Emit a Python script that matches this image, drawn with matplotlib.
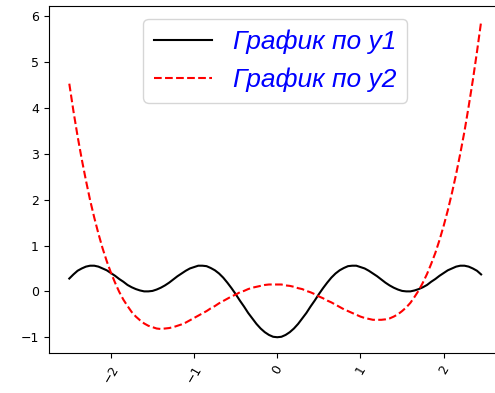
import matplotlib
matplotlib.use("Agg")
import matplotlib.pyplot as plt

# x positions (every 0.05)
x = [-2.5, -2.45, -2.4, -2.35, -2.3, -2.25, -2.2, -2.15, -2.1, -2.05,
     -2.0, -1.95, -1.9, -1.85, -1.8, -1.75, -1.7, -1.65, -1.6, -1.55,
     -1.5, -1.45, -1.4, -1.35, -1.3, -1.25, -1.2, -1.15, -1.1, -1.05,
     -1.0, -0.95, -0.9, -0.85, -0.8, -0.75, -0.7, -0.65, -0.6, -0.55,
     -0.5, -0.45, -0.4, -0.35, -0.3, -0.25, -0.2, -0.15, -0.1, -0.05,
     0.0, 0.05, 0.1, 0.15, 0.2, 0.25, 0.3, 0.35, 0.4, 0.45,
     0.5, 0.55, 0.6, 0.65, 0.7, 0.75, 0.8, 0.85, 0.9, 0.95,
     1.0, 1.05, 1.1, 1.15, 1.2, 1.25, 1.3, 1.35, 1.4, 1.45,
     1.5, 1.55, 1.6, 1.65, 1.7, 1.75, 1.8, 1.85, 1.9, 1.95,
     2.0, 2.05, 2.1, 2.15, 2.2, 2.25, 2.3, 2.35, 2.4, 2.45]

# solid black curve
y1 = [0.28, 0.37, 0.45, 0.50, 0.54, 0.56, 0.56, 0.54, 0.50, 0.46,
      0.40, 0.34, 0.27, 0.21, 0.14, 0.09, 0.05, 0.02, 0.00, 0.00,
      0.01, 0.04, 0.08, 0.13, 0.19, 0.26, 0.33, 0.39, 0.45, 0.50,
      0.53, 0.56, 0.56, 0.55, 0.51, 0.46, 0.39, 0.30, 0.19, 0.07,
      -0.06, -0.20, -0.33, -0.47, -0.59, -0.71, -0.81, -0.89, -0.95, -0.99,
      -1.00, -0.99, -0.95, -0.89, -0.81, -0.71, -0.59, -0.47, -0.33, -0.20,
      -0.06, 0.07, 0.19, 0.30, 0.39, 0.46, 0.51, 0.55, 0.56, 0.56,
      0.53, 0.50, 0.45, 0.39, 0.33, 0.26, 0.19, 0.13, 0.08, 0.04,
      0.01, 0.00, 0.00, 0.02, 0.05, 0.09, 0.14, 0.21, 0.27, 0.34,
      0.40, 0.46, 0.50, 0.54, 0.56, 0.56, 0.54, 0.50, 0.45, 0.37]

# dashed red curve
y2 = [4.53, 3.93, 3.38, 2.88, 2.42, 1.99, 1.61, 1.26, 0.94, 0.66,
      0.41, 0.19, -0.01, -0.18, -0.32, -0.45, -0.55, -0.63, -0.70, -0.75,
      -0.78, -0.81, -0.82, -0.81, -0.80, -0.78, -0.75, -0.72, -0.68, -0.63,
      -0.58, -0.53, -0.48, -0.43, -0.37, -0.32, -0.26, -0.21, -0.16, -0.11,
      -0.07, -0.02, 0.01, 0.05, 0.08, 0.10, 0.12, 0.14, 0.15, 0.15,
      0.15, 0.15, 0.13, 0.12, 0.10, 0.07, 0.05, 0.01, -0.02, -0.06,
      -0.11, -0.15, -0.20, -0.24, -0.29, -0.34, -0.39, -0.43, -0.47, -0.51,
      -0.55, -0.58, -0.60, -0.62, -0.62, -0.62, -0.61, -0.59, -0.55, -0.50,
      -0.43, -0.35, -0.25, -0.12, 0.02, 0.19, 0.38, 0.60, 0.84, 1.12,
      1.43, 1.77, 2.15, 2.56, 3.01, 3.49, 4.03, 4.60, 5.22, 5.88]

label1 = "График по y1"
label2 = "График по y2"

fig = plt.figure(figsize=(4.95, 3.93), dpi=100)
# right spine sits just outside the cropped picture
ax = fig.add_axes([48.7 / 495, 40 / 393, 453 / 495, 347 / 393])

ax.plot(x, y1, color="black", linewidth=1.5, label=label1)
ax.plot(x, y2, "r--", linewidth=1.5, label=label2)

ax.tick_params(axis="both", labelsize=9)
plt.setp(ax.get_xticklabels(), rotation=60)

leg = ax.legend(loc="upper center", prop={"family": "Liberation Sans",
                                          "style": "italic", "size": 19},
                handlelength=2.2, handletextpad=0.8)
for t in leg.get_texts():
    t.set_color("blue")

fig.savefig("out.png", dpi=100)
